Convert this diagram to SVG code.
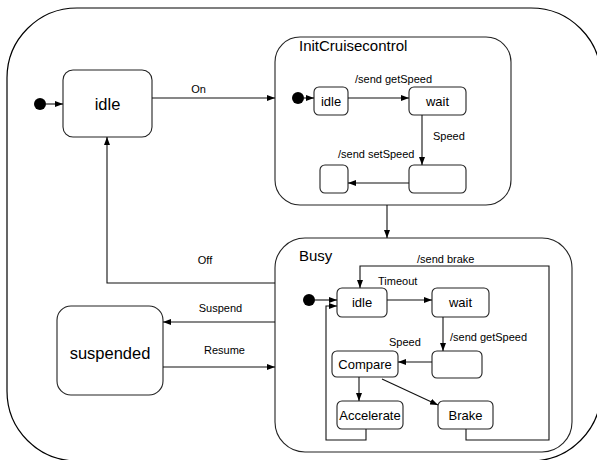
<svg xmlns="http://www.w3.org/2000/svg" width="597" height="460" viewBox="0 0 597 460">
  <style>
    .frame { fill: none; stroke: #000; stroke-width: 1.2; }
    .state { fill: #fff; stroke: #222; stroke-width: 1.1; }
    .line { fill: none; stroke: #111; stroke-width: 1.1; }
    .dot { fill: #000; }
    .big { font-family: "Liberation Sans", Arial, sans-serif; font-size: 16.5px; fill: #000; text-anchor: middle; }
    .name { font-family: "Liberation Sans", Arial, sans-serif; font-size: 13px; fill: #000; text-anchor: middle; }
    .title { font-family: "Liberation Sans", Arial, sans-serif; font-size: 15px; fill: #000; }
    .lbl { font-family: "Liberation Sans", Arial, sans-serif; font-size: 11px; fill: #000; }
    .mid { text-anchor: middle; }
  </style>
  <defs>
    <marker id="arrow" viewBox="0 0 8 6" refX="8" refY="3" markerWidth="8" markerHeight="6" markerUnits="userSpaceOnUse" orient="auto">
      <path d="M0,0 L8,3 L0,6 Z" fill="#000"/>
    </marker>
  </defs>

  <!-- enclosing machine -->
  <rect class="frame" x="7" y="8" width="594" height="453" rx="70" ry="70"/>

  <!-- top level states -->
  <g id="start">
    <circle class="dot" cx="40" cy="104" r="6"/>
  </g>
  <g id="idle">
    <rect class="state" x="63" y="70" width="89" height="67" rx="10"/>
    <text class="big" x="107.5" y="110">idle</text>
  </g>
  <g id="suspended">
    <rect class="state" x="57" y="306" width="106" height="89" rx="14"/>
    <text class="big" x="110" y="359">suspended</text>
  </g>

  <!-- InitCruisecontrol composite -->
  <g id="init-cruise">
    <rect class="state" x="275" y="37" width="236" height="168" rx="25"/>
    <text class="title" x="299" y="51">InitCruisecontrol</text>
    <g id="init-start"><circle class="dot" cx="298" cy="98" r="6"/></g>
    <g id="init-idle">
      <rect class="state" x="314" y="87" width="34" height="28" rx="5"/>
      <text class="name" x="331" y="106">idle</text>
    </g>
    <g id="init-wait">
      <rect class="state" x="409" y="87" width="57" height="28" rx="5"/>
      <text class="name" x="437.5" y="106">wait</text>
    </g>
    <g id="init-got">
      <rect class="state" x="409" y="165" width="57" height="28" rx="5"/>
    </g>
    <g id="init-done">
      <rect class="state" x="320" y="165" width="28" height="28" rx="5"/>
    </g>
  </g>

  <!-- Busy composite -->
  <g id="busy">
    <rect class="state" x="275" y="238" width="297" height="214" rx="30"/>
    <text class="title" x="299" y="261">Busy</text>
    <g id="busy-start"><circle class="dot" cx="309" cy="300" r="6"/></g>
    <g id="busy-idle">
      <rect class="state" x="337" y="288" width="50" height="29" rx="5"/>
      <text class="name" x="362" y="307">idle</text>
    </g>
    <g id="busy-wait">
      <rect class="state" x="432" y="288" width="57" height="29" rx="5"/>
      <text class="name" x="460.5" y="307">wait</text>
    </g>
    <g id="busy-got">
      <rect class="state" x="432" y="351" width="50" height="27" rx="5"/>
    </g>
    <g id="compare">
      <rect class="state" x="332" y="351" width="66" height="26" rx="5"/>
      <text class="name" x="365" y="369">Compare</text>
    </g>
    <g id="accelerate">
      <rect class="state" x="337" y="401" width="66" height="28" rx="5"/>
      <text class="name" x="370" y="420">Accelerate</text>
    </g>
    <g id="brake">
      <rect class="state" x="438" y="401" width="55" height="28" rx="5"/>
      <text class="name" x="465.5" y="420">Brake</text>
    </g>
  </g>

  <!-- transitions -->
  <g id="connectors">
    <path class="line" d="M46,104 H63" marker-end="url(#arrow)"/>
    <path class="line" d="M152,98 H275" marker-end="url(#arrow)"/>
    <path class="line" d="M387,205 V238" marker-end="url(#arrow)"/>
    <path class="line" d="M275,283 H107 V137" marker-end="url(#arrow)"/>
    <path class="line" d="M275,322 H163" marker-end="url(#arrow)"/>
    <path class="line" d="M163,367 H275" marker-end="url(#arrow)"/>

    <path class="line" d="M304,98 H314" marker-end="url(#arrow)"/>
    <path class="line" d="M348,98 H409" marker-end="url(#arrow)"/>
    <path class="line" d="M422,115 V165" marker-end="url(#arrow)"/>
    <path class="line" d="M409,183 H348" marker-end="url(#arrow)"/>

    <path class="line" d="M315,300 H337" marker-end="url(#arrow)"/>
    <path class="line" d="M387,300 H432" marker-end="url(#arrow)"/>
    <path class="line" d="M443,317 V351" marker-end="url(#arrow)"/>
    <path class="line" d="M432,362 H398" marker-end="url(#arrow)"/>
    <path class="line" d="M359,377 V401" marker-end="url(#arrow)"/>
    <path class="line" d="M382,379 L438,405" marker-end="url(#arrow)"/>
    <path class="line" d="M466,429 V440 H549 V266 H360 V288" marker-end="url(#arrow)"/>
    <path class="line" d="M366,429 V440 H326 V306 H337" marker-end="url(#arrow)"/>
  </g>

  <!-- transition labels -->
  <g id="labels">
    <text class="lbl mid" x="198.5" y="93">On</text>
    <text class="lbl mid" x="205" y="264">Off</text>
    <text class="lbl mid" x="220.5" y="312">Suspend</text>
    <text class="lbl mid" x="224.5" y="354">Resume</text>
    <text class="lbl" x="355" y="83">/send getSpeed</text>
    <text class="lbl" x="433" y="140">Speed</text>
    <text class="lbl" x="338" y="158">/send setSpeed</text>
    <text class="lbl" x="378" y="285">Timeout</text>
    <text class="lbl" x="417" y="263">/send brake</text>
    <text class="lbl" x="450" y="341">/send getSpeed</text>
    <text class="lbl" x="389" y="346">Speed</text>
  </g>
</svg>
